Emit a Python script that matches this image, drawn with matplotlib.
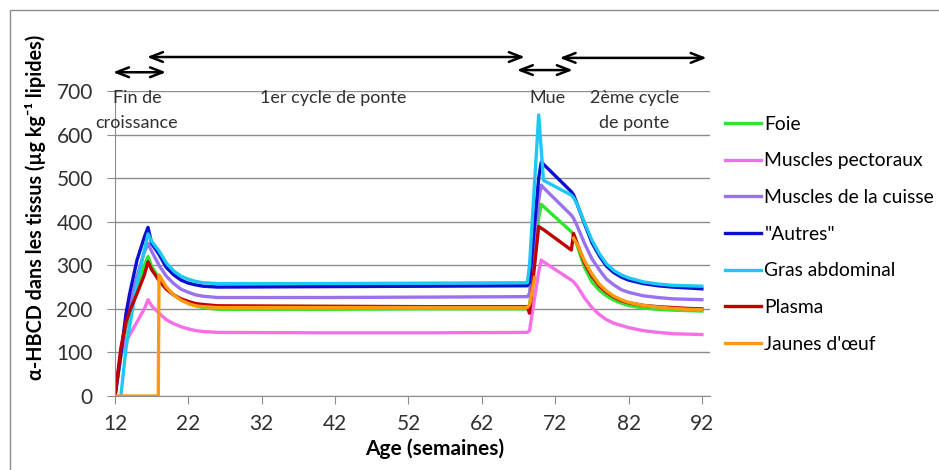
import numpy as np
import matplotlib
matplotlib.use("Agg")
import matplotlib.pyplot as plt
from matplotlib.patches import Rectangle

plt.rcParams['font.family'] = ['Lato', 'DejaVu Sans']

nan = np.nan

# ---------------- data (weeks, µg/kg lipids) ----------------
early_x = [12, 12.8, 13.5, 14, 15, 16, 16.5, 17, 18, 19, 20, 21, 22, 23, 24, 26, 40, 55, 68.2]
molt_x = [68.5, 69.75, 70.1, 70.4, 74.2, 74.5]
late_x = [75, 76, 77, 78, 79, 80, 81, 82, 84, 86, 88, 90, 92]
weeks = early_x + molt_x + late_x

foie = [0, 90, 155, 190, 250, 300, 320, 297, 270, 248, 232, 221, 213, 207, 203, 199, 199, 200, 200,
        205, 410, 440, 435, 377, 370,
        345, 295, 262, 243, 230, 220, 213, 208, 202, 199, 197, 196, 195]
pectoraux = [0, 95, 125, 140, 170, 200, 221, 207, 190, 175, 166, 159, 154, 150, 148, 146, 145, 145, 146,
             150, 285, 312, 308, 266, 262,
             252, 225, 203, 187, 175, 167, 162, 157, 150, 146, 143, 142, 141]
cuisse = [0, 95, 165, 205, 275, 330, 350, 332, 300, 275, 258, 245, 238, 232, 229, 226, 226, 227, 228,
          235, 450, 484, 478, 415, 408,
          390, 350, 315, 290, 268, 255, 244, 238, 230, 226, 223, 222, 221]
autres = [0, 97, 189, 235, 312, 365, 387, 350, 325, 295, 278, 266, 259, 255, 252, 250, 251, 252, 253,
          262, 500, 537, 532, 469, 462,
          440, 395, 352, 322, 298, 283, 273, 266, 258, 253, 250, 248, 246]
gras = [nan, 0, 110, 160, 260, 335, 372, 355, 333, 305, 287, 275, 268, 263, 260, 258, 258, 259, 260,
        300, 645, 565, 495, 461, 455,
        440, 398, 358, 327, 303, 288, 278, 271, 262, 257, 254, 253, 252]
plasma = [0, 110, 170, 195, 235, 278, 308, 290, 265, 245, 232, 223, 217, 212, 210, 207, 206, 205, 205,
          190, 389, 385, 382, 335, 373,
          350, 305, 275, 253, 238, 227, 219, 214, 208, 205, 203, 201, 200]

jaunes_x = [12, 17.9, 18, 19, 20, 21, 22, 23, 24, 26, 40, 55, 68.2, 68.5, 69.2, 71,
            74.5, 75, 76, 77, 78, 79, 80, 81, 82, 84, 86, 88, 90, 92]
jaunes = [0, 0, 278, 250, 232, 220, 212, 207, 205, 203, 203, 203, 203, 210, 272, nan,
          362, 348, 310, 280, 257, 241, 229, 221, 215, 208, 204, 201, 199, 198]

series = [
    ("Foie", weeks, foie, "#2EE62E"),
    ("Muscles pectoraux", weeks, pectoraux, "#F76FE6"),
    ("Muscles de la cuisse", weeks, cuisse, "#9A72EE"),
    ('"Autres"', weeks, autres, "#0A10D0"),
    ("Gras abdominal", weeks, gras, "#1CC8F4"),
    ("Plasma", weeks, plasma, "#C00000"),
    ("Jaunes d'œuf", jaunes_x, jaunes, "#FF9A10"),
]

# phases: (start, end, arrow level, text lines, text centre)
phases = [
    (11.73, 18.95, 743, ["Fin de", "croissance"], 15.0),
    (16.36, 67.86, 778, ["1er cycle de ponte"], 41.8),
    (66.77, 74.40, 748, ["Mue"], 70.9),
    (72.60, 92.65, 776, ["2ème cycle", "de ponte"], 82.8),
]
text_rows = [684, 627]

xticks = [12, 22, 32, 42, 52, 62, 72, 82, 92]
yticks = [0, 100, 200, 300, 400, 500, 600, 700]

# ---------------- figure ----------------
fig = plt.figure(figsize=(9.39, 4.70), dpi=100)
fig.patches.append(Rectangle((10/939, -0.1), 1.2, 1 - 10/470 + 0.1, transform=fig.transFigure,
                             fill=False, edgecolor="#8C8C8C", lw=1.0))
ax = fig.add_axes([115/939, 1 - 396/470, (710 - 115)/939, (396 - 91)/470])

for label, x, y, c in series:
    ax.plot(x, y, color=c, lw=2.4, label=label, solid_joinstyle='round')

ax.set_xlim(12, 93.1)
ax.set_ylim(0, 700)
ax.set_xticks(xticks)
ax.set_yticks(yticks)
ax.grid(axis='y', color="#8C8C8C", lw=1.0)
ax.set_axisbelow(True)
for s in ['top', 'right']:
    ax.spines[s].set_visible(False)
for s in ['left', 'bottom']:
    ax.spines[s].set_color("#8C8C8C")
ax.tick_params(axis='both', direction='out', length=6, color="#8C8C8C", labelsize=15,
               labelcolor="#303030")
ax.tick_params(axis='x', pad=7)
ax.tick_params(axis='y', pad=10)

ax.set_xlabel("Age (semaines)", fontsize=15, fontweight='bold')
ax.xaxis.label.set_va('center')
ax.xaxis.set_label_coords((434.5 - 115) / 595, -(449 - 396) / 305)
ax.set_ylabel("α-HBCD dans les tissus (µg kg⁻¹ lipides)", fontsize=14.2, fontweight='bold')
ax.yaxis.label.set_va('center')
ax.yaxis.set_label_coords(-(115 - 36) / 595, (396 - 207) / 305)

for x0, x1, ya, lines, xt in phases:
    ax.annotate("", xy=(x0, ya), xytext=(x1, ya), annotation_clip=False,
                arrowprops=dict(arrowstyle="<->,head_length=0.9,head_width=0.35", lw=1.8, color="black",
                                shrinkA=0, shrinkB=0))
    for line, yr in zip(lines, text_rows):
        ax.text(xt, yr, line, ha='center', va='center', fontsize=13, color="#303030")

leg = fig.legend(loc='upper left', bbox_to_anchor=(717/939, 1 - 108/470), frameon=False,
                 fontsize=13.9, handlelength=1.9, handletextpad=0.15, labelspacing=1.02,
                 borderaxespad=0)

fig.savefig("out.png", dpi=100)
